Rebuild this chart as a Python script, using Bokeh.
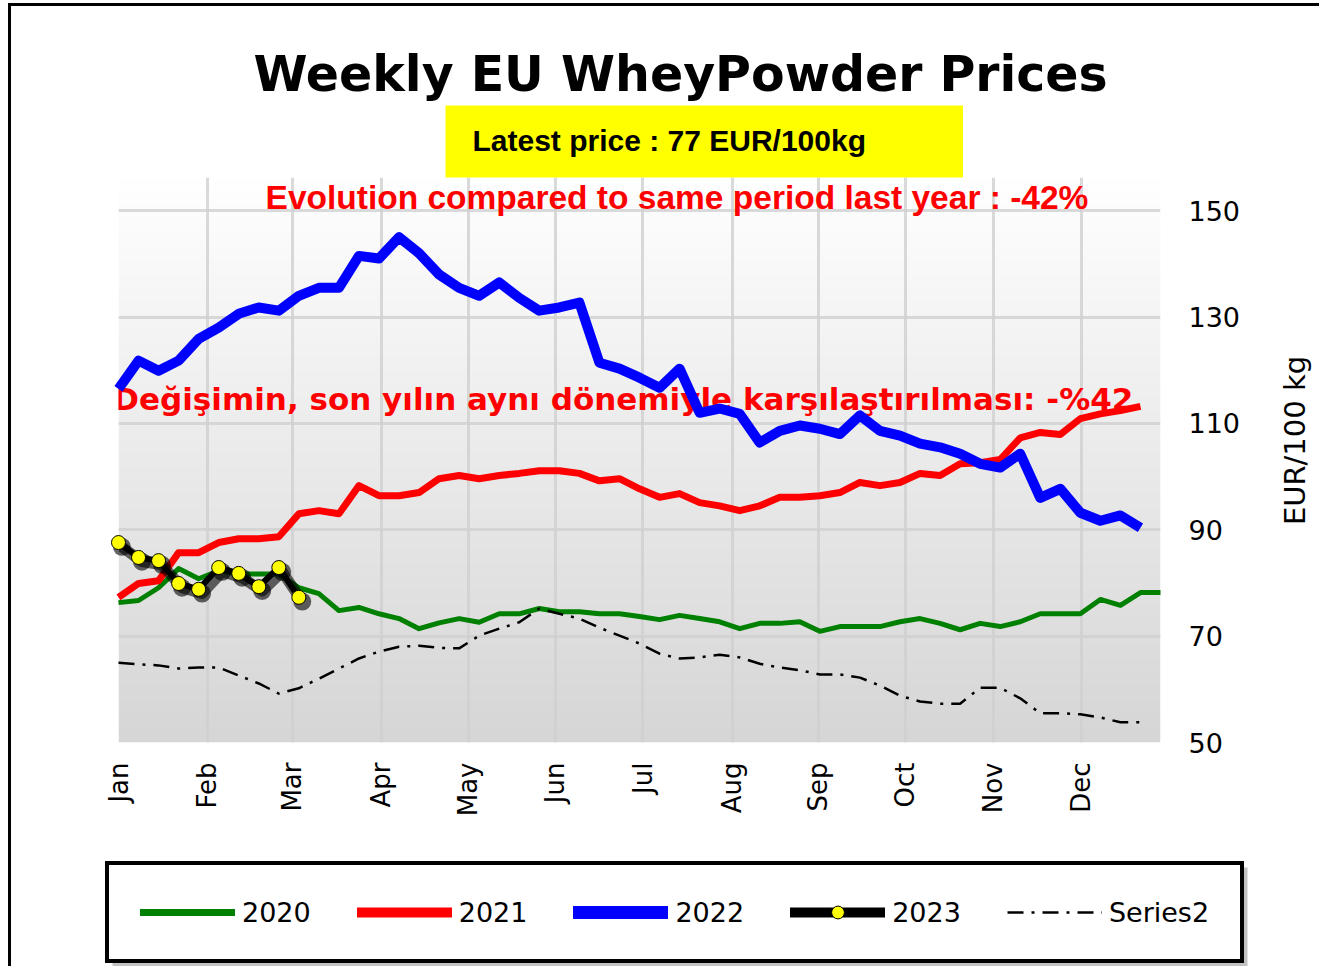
import numpy as np
from bokeh.plotting import figure
from bokeh.layouts import column, row
from bokeh.models import (Legend, LegendItem, Label, Title, FixedTicker, Range1d,
                          BoxAnnotation)
from bokeh.embed import file_html
from bokeh.resources import INLINE

# ---------------- data ----------------
months = ["Jan", "Feb", "Mar", "Apr", "May", "Jun", "Jul", "Aug", "Sep", "Oct", "Nov", "Dec"]
month_pos = [0, 4.44, 8.68, 13.12, 17.46, 21.8, 26.15, 30.64, 34.93, 39.27, 43.66, 48.05]
y_ticks = [50, 70, 90, 110, 130, 150]

p2020 = [76.3, 76.7, 79.1, 82.7, 80.8, 82.3, 81.7, 81.7, 81.7, 79.1, 78.0, 74.8, 75.4, 74.2,
         73.3, 71.4, 72.5, 73.3, 72.6, 74.2, 74.2, 75.2, 74.6, 74.6, 74.2, 74.2, 73.7, 73.1,
         73.9, 73.3, 72.7, 71.4, 72.4, 72.4, 72.7, 70.9, 71.8, 71.8, 71.8, 72.7, 73.3, 72.4,
         71.2, 72.4, 71.8, 72.7, 74.2, 74.2, 74.2, 76.9, 75.8, 78.2, 78.2]
p2021 = [77.3, 79.9, 80.4, 85.7, 85.7, 87.6, 88.3, 88.3, 88.7, 93.0, 93.6, 93.0, 98.3, 96.4,
         96.4, 97.0, 99.6, 100.2, 99.6, 100.2, 100.6, 101.1, 101.1, 100.6, 99.2, 99.6, 97.7,
         96.1, 96.8, 95.1, 94.5, 93.6, 94.5, 96.1, 96.1, 96.4, 97.0, 98.9, 98.3, 98.9, 100.6,
         100.2, 102.4, 102.6, 103.2, 107.3, 108.3, 107.9, 110.9, 111.8, 112.4, 113.2]
p2022 = [116.5, 121.8, 119.9, 121.8, 125.9, 128.0, 130.6, 131.8, 131.2, 134.0, 135.5, 135.5,
         141.5, 141.0, 145.0, 142.0, 138.0, 135.5, 134.0, 136.5, 133.6, 131.2, 131.8, 132.7,
         121.4, 120.3, 118.6, 116.7, 120.3, 112.0, 112.8, 111.8, 106.4, 108.6, 109.6, 109.0,
         108.0, 111.5, 108.6, 107.7, 106.2, 105.5, 104.3, 102.4, 101.7, 104.3, 96.0, 97.7,
         93.2, 91.7, 92.7, 90.4]
p2023 = [87.6, 84.8, 84.2, 79.9, 78.8, 82.9, 81.8, 79.3, 82.9, 77.3]
series2 = [65.0, 64.7, 64.5, 63.9, 64.1, 64.1, 62.6, 61.1, 59.2, 60.2, 62.0, 63.9, 65.8, 67.1,
           68.0, 68.2, 67.8, 67.7, 70.1, 71.4, 72.6, 75.2, 74.2, 73.3, 71.6, 70.1, 68.6, 66.7,
           65.8, 66.0, 66.5, 66.0, 64.8, 64.1, 63.6, 62.8, 62.8, 62.2, 60.7, 58.8, 57.7, 57.3,
           57.3, 60.3, 60.3, 58.3, 55.5, 55.5, 55.3, 54.7, 53.8, 53.8]

w2020 = list(range(len(p2020)))
w2021 = list(range(len(p2021)))
w2022 = list(range(len(p2022)))
w2023 = list(range(len(p2023)))
ws2 = list(range(len(series2)))

# ---------------- main figure ----------------
p = figure(width=1268, height=840, x_range=Range1d(0, 52), y_range=Range1d(50, 156.24),
           y_axis_location="right", output_backend="svg", toolbar_location=None, title=None,
           min_border_left=118, min_border_top=177, min_border_right=108,
           min_border_bottom=98, border_fill_color=None, border_fill_alpha=0,
           outline_line_color=None)

# gradient background of the plotting area
n = 300
t = np.linspace(0, 1, n)
g = (0xd6 + (0xff - 0xd6) * t).astype(np.uint8)
img = np.zeros((n, 1), dtype=np.uint32)
view = img.view(dtype=np.uint8).reshape((n, 1, 4))
view[:, 0, 0] = g
view[:, 0, 1] = g
view[:, 0, 2] = g
view[:, 0, 3] = 255
p.image_rgba(image=[img], x=0, y=50, dw=52, dh=106.24, level="image")

# grids
p.xgrid.ticker = FixedTicker(ticks=month_pos)
p.ygrid.ticker = FixedTicker(ticks=y_ticks)
for gr in (p.xgrid, p.ygrid):
    gr.grid_line_color = "#d0d0d0"
    gr.grid_line_alpha = 0.8
    gr.grid_line_width = 3

# x axis
xa = p.xaxis[0]
xa.ticker = FixedTicker(ticks=month_pos)
xa.major_label_overrides = {pos: m for pos, m in zip(month_pos, months)}
xa.major_label_orientation = np.pi / 2
xa.axis_line_color = None
xa.major_tick_line_color = None
xa.minor_tick_line_color = None
xa.major_label_standoff = 14
xa.major_label_text_font = "DejaVu Sans"
xa.major_label_text_font_size = "26px"
xa.major_label_text_color = "black"

# y axis (right)
ya = p.yaxis[0]
ya.ticker = FixedTicker(ticks=y_ticks)
ya.axis_line_color = None
ya.major_tick_line_color = None
ya.minor_tick_line_color = None
ya.major_label_standoff = 22
ya.major_label_text_font = "DejaVu Sans"
ya.major_label_text_font_size = "27px"
ya.major_label_text_color = "black"

# ---------------- series ----------------
sty2020 = dict(line_color="#008000", line_width=5, line_join="round")
sty2021 = dict(line_color="#ff0000", line_width=7, line_join="round")
sty2022 = dict(line_color="#0000ff", line_width=10, line_join="round")
sty2023 = dict(line_color="black", line_width=6, line_join="round")
stys2 = dict(line_color="black", line_width=2.5, line_dash="16 8 3 8")

r2020 = p.line(w2020, p2020, level="overlay", **sty2020)
r2021 = p.line(w2021, p2021, level="overlay", **sty2021)
r2022 = p.line(w2022, p2022, level="overlay", **sty2022)
rs2 = p.line(ws2, series2, level="overlay", **stys2)

sh_x = [x + 0.17 for x in w2023]
sh_y = [y - 0.8 for y in p2023]
p.line(sh_x, sh_y, line_color="black", line_alpha=0.6, line_width=11, line_join="round", level="overlay")
p.scatter(sh_x, sh_y, size=18, marker="circle", fill_color="black", fill_alpha=0.6,
          line_color=None, level="overlay")
r2023 = p.line(w2023, p2023, level="overlay", **sty2023)
m2023 = p.scatter(w2023, p2023, size=14, marker="circle", fill_color="yellow",
                  line_color="black", line_width=1, level="overlay")

# ---------------- texts ----------------
latest = Title(text="Latest price : 77 EUR/100kg", align="left", offset=327, standoff=0,
               text_font="Liberation Sans", text_font_style="bold", text_font_size="30px",
               text_color="black", background_fill_color="yellow",
               padding=dict(left=27, right=97, top=18, bottom=21))
p.add_layout(latest, "above")
main_title = Title(text="Weekly EU WheyPowder Prices", align="left", offset=135, standoff=2,
                   text_font="DejaVu Sans", text_font_style="bold", text_font_size="49px",
                   text_color="black")
p.add_layout(main_title, "above")

p.add_layout(Label(x=27.87, y=152.5, text="Evolution compared to same period last year : -42%",
                   text_align="center", text_baseline="middle", text_font="Liberation Sans",
                   text_font_style="bold", text_font_size="33.5px", text_color="#ff0000"))
p.add_layout(Label(x=26.0, y=114.5,
                   text="Değişimin,  son  yılın aynı dönemiyle  karşılaştırılması: -%42",
                   text_align="center", text_baseline="middle", text_font="DejaVu Sans",
                   text_font_style="bold", text_font_size="31px", text_color="#ff0000"))

# ---------------- y axis title (separate strip, reads bottom-to-top) ----------------
py = figure(width=51, height=840, x_range=Range1d(0, 51), y_range=Range1d(0, 840),
            output_backend="svg", toolbar_location=None, min_border=0,
            border_fill_color=None, background_fill_color=None, outline_line_color=None)
py.axis.visible = False
py.grid.visible = False
py.add_layout(Label(x=26, y=449, text="EUR/100 kg", angle=np.pi / 2, text_align="center",
                    text_baseline="middle", text_font="DejaVu Sans", text_font_size="29px",
                    text_color="black"))

# ---------------- legend strip ----------------
# the series are repeated here only to feed the legend; the y range keeps them out of view
pl = figure(width=1319, height=126, x_range=Range1d(0, 1319), y_range=Range1d(1000, 1126),
            output_backend="svg", toolbar_location=None, min_border=0,
            border_fill_color=None, background_fill_color=None, outline_line_color=None)
pl.axis.visible = False
pl.grid.visible = False
pl.add_layout(BoxAnnotation(left=112, right=1247, bottom=1000, top=1099, fill_color="#9a9a9a",
                            fill_alpha=0.6, line_color=None))
l2020 = pl.line(w2020, p2020, **dict(sty2020, line_width=7, line_cap="round"))
l2021 = pl.line(w2021, p2021, **dict(sty2021, line_width=10, line_cap="round"))
l2022 = pl.line(w2022, p2022, **dict(sty2022, line_width=13, line_cap="round"))
l2023 = pl.line(w2023, p2023, **dict(sty2023, line_width=10, line_cap="round"))
lm2023 = pl.scatter(w2023, p2023, size=9, marker="circle", fill_color="yellow", line_color="black")
ls2 = pl.line(ws2, series2, **stys2)
legend = Legend(items=[LegendItem(label="2020", renderers=[l2020]),
                       LegendItem(label="2021", renderers=[l2021]),
                       LegendItem(label="2022", renderers=[l2022]),
                       LegendItem(label="2023", renderers=[l2023, lm2023]),
                       LegendItem(label="Series2", renderers=[ls2])],
                orientation="horizontal", location=(105, 3),
                border_line_color="black", border_line_width=4, border_line_alpha=1,
                background_fill_color="white", background_fill_alpha=1,
                padding=31, spacing=46, glyph_width=95, glyph_height=32, label_height=32,
                label_standoff=7, label_text_font="DejaVu Sans",
                label_text_font_size="27px", label_text_color="black")
pl.add_layout(legend, "center")

layout = column(row(p, py, spacing=0), pl, spacing=0)
layout.styles = {
    "background": ("linear-gradient(#000,#000) 8px 3px / 3px calc(100% - 3px) no-repeat, "
                   "linear-gradient(#000,#000) 8px 3px / calc(100% - 8px) 3px no-repeat, #ffffff")
}

open("out.html", "w").write(file_html(layout, INLINE))
